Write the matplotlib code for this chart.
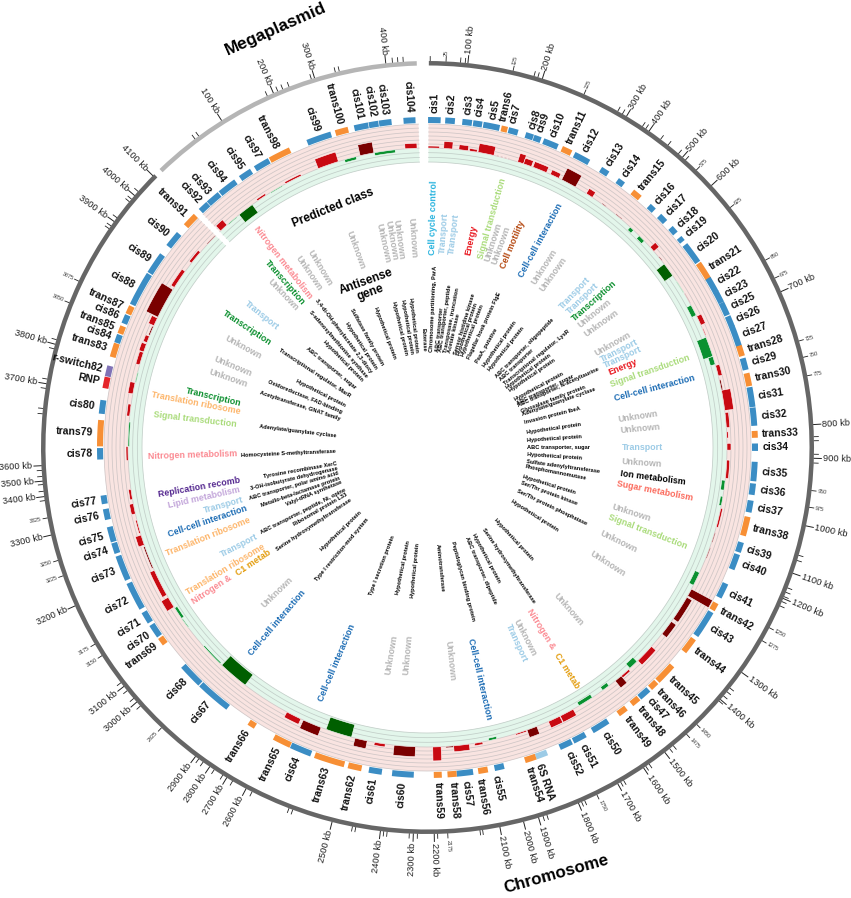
import numpy as np
import matplotlib
matplotlib.use("Agg")
import matplotlib.pyplot as plt

plt.rcParams['font.family'] = ['Liberation Sans', 'DejaVu Sans']

# features, angles in degrees clockwise from the top
feature_names = ['cis1', 'cis2', 'cis3', 'cis4', 'cis5', 'trans6', 'cis7', 'cis8', 'cis9', 'cis10', 'trans11', 'cis12',
                 'cis13', 'cis14', 'trans15', 'cis16', 'cis17', 'cis18', 'cis19', 'cis20', 'trans21', 'cis22', 'cis23',
                 'cis25', 'cis26', 'cis27', 'trans28', 'cis29', 'trans30', 'cis31', 'cis32', 'trans33', 'cis34', 'cis35',
                 'cis36', 'cis37', 'trans38', 'cis39', 'cis40', 'cis41', 'trans42', 'cis43', 'trans44', 'trans45',
                 'trans46', 'cis47', 'trans48', 'trans49', 'cis50', 'cis51', 'cis52', '6S RNA', 'trans54', 'cis55',
                 'trans56', 'cis57', 'trans58', 'trans59', 'cis60', 'cis61', 'trans62', 'trans63', 'cis64', 'trans65',
                 'trans66', 'cis67', 'cis68', 'trans69', 'cis70', 'cis71', 'cis72', 'cis73', 'cis74', 'cis75', 'cis76',
                 'cis77', 'cis78', 'trans79', 'cis80', 'RNP', 'r-switch82', 'trans83', 'cis84', 'trans85', 'cis86',
                 'trans87', 'cis88', 'cis89', 'cis90', 'trans91', 'cis92', 'cis93', 'cis94', 'cis95', 'cis97', 'trans98',
                 'cis99', 'trans100', 'cis101', 'cis102', 'cis103', 'cis104']
feature_start = [0.1, 3.1, 6.1, 8, 9.8, 13, 14.3, 17.4, 18.9, 20.7, 24.2, 26.6, 31.9, 35.4, 38.7, 42.5, 45, 47.9, 50.2,
                 51.8, 55.8, 58.9, 61.6, 63.8, 66.4, 68.3, 71.9, 74.2, 76.9, 79.4, 83, 87.1, 89.3, 92.5, 96.3, 99.3,
                 102.2, 106.8, 109, 114.5, 118.3, 120.1, 125.7, 131.7, 135.7, 137.6, 139.9, 142.7, 146.6, 151.2, 153.9,
                 158.6, 160.7, 166.5, 169.4, 172, 174.9, 177.5, 182.4, 188, 191.6, 194.7, 200.8, 204.7, 211.7, 217.5,
                 223.9, 233.2, 234.9, 237.8, 240.6, 246.2, 251.2, 253.3, 257.3, 260.1, 267.9, 270.2, 275.9, 280.4,
                 282.5, 286, 288.6, 290.3, 292.2, 294, 295.8, 302.1, 307.8, 312.5, 316.2, 318.1, 320.8, 325.2, 328.3,
                 331.3, 338.5, 343.7, 347.1, 349.7, 351.5, 355.8]
feature_end = [2.3, 4.8, 7.8, 9.6, 12.7, 14.1, 16, 18.8, 20.2, 23.4, 26, 29.5, 33.4, 36.7, 40.4, 43.7, 46.5, 49.2, 51.1,
               55.6, 59.1, 61.7, 63.8, 66.2, 68.4, 72.1, 73.8, 76.3, 79.2, 82.9, 86.2, 88.3, 90.6, 95.9, 98.3, 101.4,
               105.6, 108.6, 111.8, 117.2, 119.7, 125, 128.5, 135.4, 137.2, 139.7, 141.5, 144.4, 149.8, 153.6, 156.2,
               160.7, 162.7, 168.2, 171.1, 174.9, 176.5, 178.9, 186.2, 190.3, 194, 200.1, 204.6, 207.9, 213, 223.7,
               228.2, 234.6, 237.3, 239.9, 245.6, 250.7, 253.1, 256, 259.2, 261.6, 269.9, 274.8, 278.3, 282.4, 284.4,
               288.5, 290.1, 291.7, 293.8, 295.5, 301.9, 306, 310.7, 315, 318, 320.6, 324.2, 327.5, 331.1, 335.2, 342.9,
               346, 349.6, 351.4, 353.7, 357.9]
label_shift = {'trans6': -0.5, 'cis7': -0.5, '6S RNA': 1, 'trans54': 0.7, 'cis55': 1, 'trans56': 0.7}

# read-count bars on the two inner tracks: r red, d dark red, g green, k dark green
bar_start = [0.1, 3.1, 6, 8, 9.7, 13.3, 17.5, 18.7, 20.6, 24.2, 26.6, 32, 35.5, 38.9, 42.6, 45, 48, 50.5, 52.2, 56.2,
             59, 61.6, 64, 66.6, 68.4, 72.3, 74.1, 76.9, 79, 83.3, 87, 89.2, 92.4, 96.3, 99.4, 101.7, 106.5, 109.5,
             114.7, 118.2, 120, 125.5, 131.6, 135.6, 137.8, 139.7, 142.7, 146.6, 150.9, 153.8, 158.6, 160.7, 166.6,
             169.4, 172, 175, 177.4, 182.3, 188.1, 191.6, 194.7, 200.8, 205, 217.5, 223.8, 233, 235.2, 237.8, 240.5,
             246.3, 251, 253.4, 257.2, 260, 267.5, 270.2, 276, 280.3, 282.6, 286, 288.6, 290.5, 292, 294, 295.8, 302.3,
             308, 312.7, 316.3, 318.2, 321, 325.4, 328.4, 331.7, 338.6, 343.9, 347, 349.8, 355.7]
bar_end = [2.3, 4.8, 7.8, 9.5, 12.8, 15.9, 18.7, 20.3, 23.4, 26, 29.6, 33.4, 36.6, 40.4, 43.5, 46.4, 49.1, 51.5, 55,
           58.9, 61.2, 63.8, 65.9, 68, 72.3, 73.9, 76.2, 79, 82.9, 86.2, 88.2, 90.5, 95.9, 98.2, 101.2, 105.4, 108.5,
           111.7, 117.4, 119.7, 124.9, 128.5, 135.4, 137.5, 139.8, 141.2, 144.2, 149.6, 153.7, 156.2, 160.6, 162.9,
           168.2, 171, 175, 176.5, 179, 186.4, 190.2, 194, 199.8, 204.5, 208, 223.4, 228.4, 235.1, 237.6, 240, 245.8,
           250.7, 253, 256, 259.2, 262, 270.2, 274.9, 278.3, 282.5, 284.5, 288.5, 290.2, 291.8, 293.8, 295.6, 301.8,
           306, 310.7, 314.9, 318, 320.4, 324.2, 327.4, 331, 335.1, 342.7, 346.2, 349.7, 353.8, 358]
bar_height = [2, 7, 5, 2.5, 9, 0.7, 9, 6, 6, 5, 13, 6, 1, 1, -4, -4, 7, 1, -10, -0.8, 0.8, -5, 5, 1, -10, -5, 4, 1.5, 9,
              3.5, 1.5, 4, 3, -3.5, -2.5, 2, 1, 1, -5, 24, 6, 6, 6, -6, 2.5, 9, -4, -4, 7, 7, 8, 1.5, -2.5, 2.5, 6, 1.5,
              14, 10, 3, 8, -13, 9, 6, -13, -1.5, -1, -3, 8, 5, 1.5, 6, 1.5, 4, 2.5, 2, -1.5, 3, 5, -1, 4, 5, 4, 1.5, 6,
              13, 4, 3, 1, 7, -1, -10, 2, -1, 2, 10, -3, 11, -3, 5]
bar_kind = ['r', 'r', 'r', 'r', 'r', 'd', 'r', 'r', 'r', 'r', 'd', 'r', 'd', 'd', 'g', 'g', 'r', 'd', 'k', 'g',
            'd', 'g', 'r', 'r', 'g', 'g', 'r', 'd', 'r', 'r', 'r', 'r', 'r', 'g', 'g', 'r', 'd', 'd',
            'g', 'd', 'd', 'd', 'r', 'g', 'r', 'd', 'g', 'g', 'r', 'r', 'd', 'r', 'g',
            'r', 'r', 'd', 'r', 'd', 'r', 'd', 'k', 'd', 'r', 'k', 'g', 'g', 'g', 'r', 'r',
            'd', 'r', 'r', 'r', 'r', 'r', 'g', 'r', 'r', 'g', 'r', 'r', 'r', 'd', 'r', 'd', 'r',
            'r', 'd', 'r', 'g', 'k', 'r', 'g', 'r', 'r', 'g', 'd', 'g', 'r']

# genome scale
kb_labels = ['100 kb', '200 kb', '300 kb', '400 kb', '500 kb', '600 kb', '700 kb', '800 kb', '900 kb', '1000 kb',
             '1100 kb', '1200 kb', '1300 kb', '1400 kb', '1500 kb', '1600 kb', '1700 kb', '1800 kb', '1900 kb',
             '2000 kb', '2100 kb', '2200 kb', '2300 kb', '2400 kb', '2500 kb', '2600 kb', '2700 kb', '2800 kb',
             '2900 kb', '3000 kb', '3100 kb', '3200 kb', '3300 kb', '3400 kb', '3500 kb', '3600 kb', '3700 kb',
             '3800 kb', '3900 kb', '4000 kb', '4100 kb']
kb_angles = [6, 17.3, 31, 35, 41.3, 47.3, 66.2, 86.6, 91.6, 101.7, 109, 113, 125.6, 130.7, 142.1, 146, 150.5, 157,
             163.3, 165.6, 169.2, 179, 182.1, 187, 194.3, 208, 211.3, 214.3, 216.9, 228.8, 231.8, 245.8, 256.9, 262.7,
             265, 267.3, 279.5, 285.5, 305.8, 310.7, 314.7]
plasmid_labels = ['100 kb', '200 kb', '300 kb', '400 kb']
plasmid_angles = [327.8, 336.5, 343, 353.8]
small_labels = ['25', '125', '225', '575', '625', '650', '675', '725', '750', '775', '950', '975', '1250', '1275',
                '1450', '1475', '1750', '2175', '2925', '3150', '3175', '3225', '3250', '3325', '3850', '3875']
small_angles = [2.75, 12.8, 23.9, 44.1, 51.6, 61, 64, 74, 76.5, 79.3, 96.4, 98.9, 117.8, 120, 135.8, 137.9, 154, 177,
                223.5, 237.4, 239.4, 250.6, 253, 259.5, 292, 295.5]
minor_angles = [0.4, 4.9, 5.6, 16, 16.6, 29.5, 30.3, 33.8, 34.4, 37.1, 38.5, 40.5, 41.9, 88.4, 89, 91, 92.3, 106.2, 107,
                111.3, 112, 112.7, 113.5, 114.2, 128.5, 129.2, 130, 131, 140.5, 141.2, 145, 145.6, 149.5, 150, 156,
                156.5, 162, 162.6, 171.8, 172.2, 178.5, 181.5, 182.7, 186, 186.5, 190.7, 191.2, 200.4, 201, 207, 210.3,
                212, 213.5, 215.5, 216.3, 228, 229.5, 231, 232.5, 262.1, 263.5, 264.5, 265.7, 266.6, 275, 275.8, 278.8,
                280.2, 284.8, 286.2, 304.5, 305, 306.5, 309.5, 310, 311.5, 323, 323.7, 335.5, 337.2, 338, 339, 342.5,
                346.2, 346.8, 354.8, 355.6, 356.4]

# predicted class text
class_labels = ['Cell cycle control', 'Transport', 'Transport', 'Energy', 'Signal transduction', 'Unknown', 'Unknown',
                'Cell motility', 'Cell-cell interaction', 'Unknown', 'Unknown', 'Transport', 'Transport',
                'Transcription', 'Unknown', 'Unknown', 'Unknown', 'Transport', 'Transport', 'Energy',
                'Signal transduction', 'Cell-cell interaction', 'Unknown', 'Unknown', 'Transport', 'Unknown',
                'Ion metabolism', 'Sugar metabolism', 'Unknown', 'Signal transduction', 'Unknown', 'Unknown', 'Unknown',
                'Nitrogen &', 'C1 metab', 'Unknown', 'Transport', 'Cell-cell interaction', 'Unknown', 'Unknown',
                'Unknown', 'Cell-cell interaction', 'Cell-cell interaction', 'Unknown', 'Nitrogen &', 'C1 metab',
                'Translation ribosome', 'Transport', 'Translation ribosome', 'Cell-cell interaction', 'Transport',
                'Lipid metabolism', 'Replication recomb', 'Nitrogen metabolism', 'Signal transduction',
                'Translation ribosome', 'Transcription', 'Unknown', 'Unknown', 'Unknown', 'Transcription', 'Transport',
                'Unknown', 'Transcription', 'Nitrogen metabolism', 'Unknown', 'Unknown', 'Unknown', 'Unknown',
                'Unknown', 'Unknown', 'Unknown']
class_angles = [1.4, 4.3, 7, 12, 15.8, 17.8, 20.1, 22.7, 28.6, 33, 36, 43.7, 46.1, 48.6, 51.3, 54.5, 60.7, 63.2, 65.2,
                67.7, 70.9, 75.5, 81.6, 84.9, 90, 94.1, 97.6, 100.9, 107.9, 110.9, 116.2, 122.8, 139, 147.9, 148,
                152.8, 155.6, 167.2, 174, 185.4, 189.8, 202.8, 220.5, 226, 236.7, 236.4, 238.9, 242.6, 248, 251.4,
                254.3, 257.4, 260, 268.2, 276.8, 280.9, 283.3, 289.2, 292.7, 298.6, 303.5, 308.7, 316.5, 319.1, 322.1,
                325.8, 329.1, 340.1, 347.7, 350.2, 352.2, 356]
class_radius = [230, 215, 215, 212, 238, 216, 215, 220, 236, 215, 214, 214, 215, 222, 214, 214, 212, 215, 215, 211, 235,
                235, 213, 214, 215, 215, 227, 232, 214, 236, 213, 214, 215, 214, 263, 214, 215, 237, 214, 208, 210, 233,
                231, 209, 258, 209, 236, 212, 237, 232, 212, 229, 232, 235, 234, 236, 220, 211, 211, 210, 216, 212, 210,
                218, 235, 211, 209, 210, 209, 210, 210, 210]

# gene text
gene_labels = ['Chromosome partitioning, ParA', 'ABC transporter', 'ABC transporter, peptide', 'Transposase, truncation',
               'Acetate kinase', 'Sensor histidine kinase', 'Hypothetical protein', 'Hypothetical protein',
               'Flagellar hook protein FlgE', 'PaaA, putative', 'Hypothetical protein', 'Hypothetical protein',
               'ABC transporter, oligopeptide', 'ABC transporter', 'Transcriptional regulator, LysR',
               'Hypothetical protein', 'Hypothetical protein', 'Hypothetical protein', 'ABC transporter, sugar',
               'ABC transporter, N-acetyltaurine', 'Glyoxalase family protein', 'Adenylate/guanylate cyclase',
               'Invasion protein IbeA', 'Hypothetical protein', 'Hypothetical protein', 'ABC transporter, sugar',
               'Hypothetical protein', 'Sulfate adenylyltransferase', 'Phosphomannomutase', 'Hypothetical protein',
               'Ser/Thr protein kinase', 'Ser/Thr protein phosphatase', 'Hypothetical protein', 'Hypothetical protein',
               'Serine hydroxymethyltransferase', 'Hypothetical protein', 'ABC transporter, dipeptide',
               'Peptidoglycan binding protein', 'Aminotransferase', 'Hypothetical protein', 'Hypothetical protein',
               'Type I secretion protein', 'Type I restriction-mod system', 'Hypothetical protein',
               'Serine hydroxymethyltransferase', 'Ribosomal protein L33', 'ABC transporter, peptide, Ni, opine',
               'Valyl-tRNA synthetase', 'Metallo-beta-lactamase protein', 'ABC transporter, polar amino acid',
               '3-OH-isobutyrate dehydrogenase', 'Tyrosine recombinase XerC', 'Homocysteine S-methyltransferase',
               'Adenylate/guanylate cyclase', 'Acetyltransferase, GNAT family', 'Oxidoreductase, FAD-binding',
               'Hypothetical protein', 'Transcriptional regulator, MarR', 'ABC transporter, sugar',
               'Hypothetical protein', 'S-adenosylmethionine synthase', '3,4-di-OH-phenylacetate 2,3-dioxy',
               'Hypothetical protein', 'Sulfatase family protein', 'Hypothetical protein', 'Hypothetical protein',
               'Hypothetical protein', 'Hypothetical protein', 'Esterase']
gene_angles = [2.5, 5.7, 8, 10.7, 13, 16.6, 18.7, 21, 25, 30, 35, 38.5, 44.4, 47, 50.5, 53, 55.5, 61.5, 64, 65.5, 69,
               70.8, 75.8, 81.5, 86, 90, 93.8, 97.8, 101, 107, 110.6, 115.5, 122.4, 137, 145.5, 152, 156.7, 165.4, 174,
               185.7, 191.6, 201, 220, 226, 236, 240, 243, 247.8, 250.8, 254, 257, 260, 267.5, 277, 288.2, 292.4, 297,
               303.3, 309.4, 315.7, 319.2, 323, 327, 331, 339.6, 346.8, 350.4, 353.7, 357.9]

class_colors = {'Unknown': '#b5b5b5', 'Transport': '#9ccbe6', 'Cell cycle control': '#27b3de', 'Energy': '#e8141c',
                'Signal transduction': '#a9db7a', 'Cell motility': '#b4470f', 'Cell-cell interaction': '#1c6cb4',
                'Transcription': '#0b8f2e', 'Ion metabolism': '#000000', 'Sugar metabolism': '#fb6a5c',
                'Nitrogen &': '#fb8a92', 'Nitrogen metabolism': '#fb8a92', 'C1 metab': '#e39c0c',
                'Replication recomb': '#54278f', 'Lipid metabolism': '#c3a6da', 'Translation ribosome': '#fdb56a'}
feature_colors = {'cis': '#3b8dc4', 'trans': '#f78f35', '6S RNA': '#9ccbe6', 'RNP': '#e5252a', 'r-switch82': '#8072b6'}
bar_colors = {'r': '#c80a12', 'd': '#7a0000', 'g': '#0a9130', 'k': '#005f00'}

W, H = 851, 898
CX, CY, RMAX = 427.5, 447.5, 425
R_RING_IN, R_RING_OUT = 382, 386.5
R_FEAT_IN, R_FEAT_OUT = 324.5, 330.5
R_PINK_OUT, R_MID, R_GREEN_IN = 323.5, 299.5, 285.5


def feature_color(name):
    if name in feature_colors:
        return feature_colors[name]
    return feature_colors['trans'] if name.startswith('trans') else feature_colors['cis']


def radial_text(angle, r, text, anchor='center', **kw):
    # text follows the radius, flipped on the left half so it stays readable
    if angle <= 180:
        rot = 90 - angle
        ha = 'left' if anchor == 'inner' else 'center'
    else:
        rot = 270 - angle
        ha = 'right' if anchor == 'inner' else 'center'
    ax.text(np.radians(angle), r, text, rotation=rot, rotation_mode='anchor', ha=ha, va='center', **kw)


fig = plt.figure(figsize=(W / 100, H / 100), dpi=100)
ax = fig.add_axes([(CX - RMAX) / W, (H - CY - RMAX) / H, 2 * RMAX / W, 2 * RMAX / H], projection='polar')
ax.set_theta_zero_location('N')
ax.set_theta_direction(-1)
ax.set_ylim(0, RMAX)
ax.set_axis_off()

# chromosome and megaplasmid
segments = [(0.2, 315.0), (316.1, 358.4)]
for (a, b), col in zip(segments, ['#666666', '#b5b5b5']):
    t = np.radians(a)
    w = np.radians(b - a)
    ax.bar(t, R_RING_OUT - R_RING_IN, width=w, bottom=R_RING_IN, align='edge', color=col, lw=0, zorder=3)
    ax.bar(t, R_PINK_OUT - R_MID, width=w, bottom=R_MID, align='edge', color='#f9e4e1', lw=0, zorder=1)
    ax.bar(t, R_MID - R_GREEN_IN, width=w, bottom=R_GREEN_IN, align='edge', color='#e3f6eb', lw=0, zorder=1)
    th = np.radians(np.linspace(a, b, 400))
    for r in np.linspace(R_MID, R_PINK_OUT, 7):
        ax.plot(th, np.full(th.size, r), color='#cfc6c6', lw=0.55, zorder=2)
    for r in np.linspace(R_GREEN_IN, R_MID, 4)[:-1]:
        ax.plot(th, np.full(th.size, r), color='#c2cec8', lw=0.55, zorder=2)

# scale ticks
for a in minor_angles:
    ax.plot(np.radians([a, a]), [R_RING_OUT, R_RING_OUT + 4.5], color='#222222', lw=0.6, zorder=2)
for a in small_angles:
    ax.plot(np.radians([a, a]), [R_RING_OUT, R_RING_OUT + 4.5], color='#222222', lw=0.6, zorder=2)
for a in kb_angles + plasmid_angles:
    ax.plot(np.radians([a, a]), [R_RING_OUT, R_RING_OUT + 7.5], color='#222222', lw=0.7, zorder=2)
for lab, a in zip(kb_labels + plasmid_labels, kb_angles + plasmid_angles):
    radial_text(a, R_RING_OUT + 9, lab, anchor='inner', fontsize=6.7, color='#222222')
for lab, a in zip(small_labels, small_angles):
    radial_text(a, R_RING_OUT + 6, lab, anchor='inner', fontsize=3.9, color='#333333')

# feature track
for name, a, b in zip(feature_names, feature_start, feature_end):
    ax.bar(np.radians(a), R_FEAT_OUT - R_FEAT_IN, width=np.radians(b - a), bottom=R_FEAT_IN, align='edge',
           color=feature_color(name), lw=0, zorder=3)
    radial_text((a + b) / 2 + label_shift.get(name, 0), R_FEAT_OUT + 4.5, name, anchor='inner', fontsize=7.5,
                fontweight='bold', color='#111111')

# read bars
for a, b, h, k in zip(bar_start, bar_end, bar_height, bar_kind):
    ax.bar(np.radians(a), h, width=np.radians(b - a), bottom=R_MID, align='edge', color=bar_colors[k],
           edgecolor='white', lw=0.4, zorder=4)

for lab, a, r in zip(class_labels, class_angles, class_radius):
    radial_text(a, r, lab, fontsize=6.4, fontweight='bold', color=class_colors[lab])
for lab, a in zip(gene_labels, gene_angles):
    radial_text(a, 96 + 4 * np.sin(np.radians(a)), lab, anchor='inner', fontsize=4.1, fontweight='bold', color='black')

ax.text(np.radians(340), 445, 'Megaplasmid', rotation=24, rotation_mode='anchor', ha='center', va='center',
        fontsize=12.4, fontweight='bold')
ax.text(np.radians(163.2), 446, 'Chromosome', rotation=15.6, rotation_mode='anchor', ha='center', va='center',
        fontsize=12.2, fontweight='bold')
ax.text(np.radians(338.5), 257.5, 'Predicted class', rotation=22, rotation_mode='anchor', ha='center', va='center',
        fontsize=8.5, fontweight='bold')
ax.text(np.radians(339.7), 171, 'Antisense\ngene', rotation=20, rotation_mode='anchor', ha='center', va='center',
        fontsize=8.5, fontweight='bold', linespacing=0.95)

fig.savefig('out.png', dpi=100)
